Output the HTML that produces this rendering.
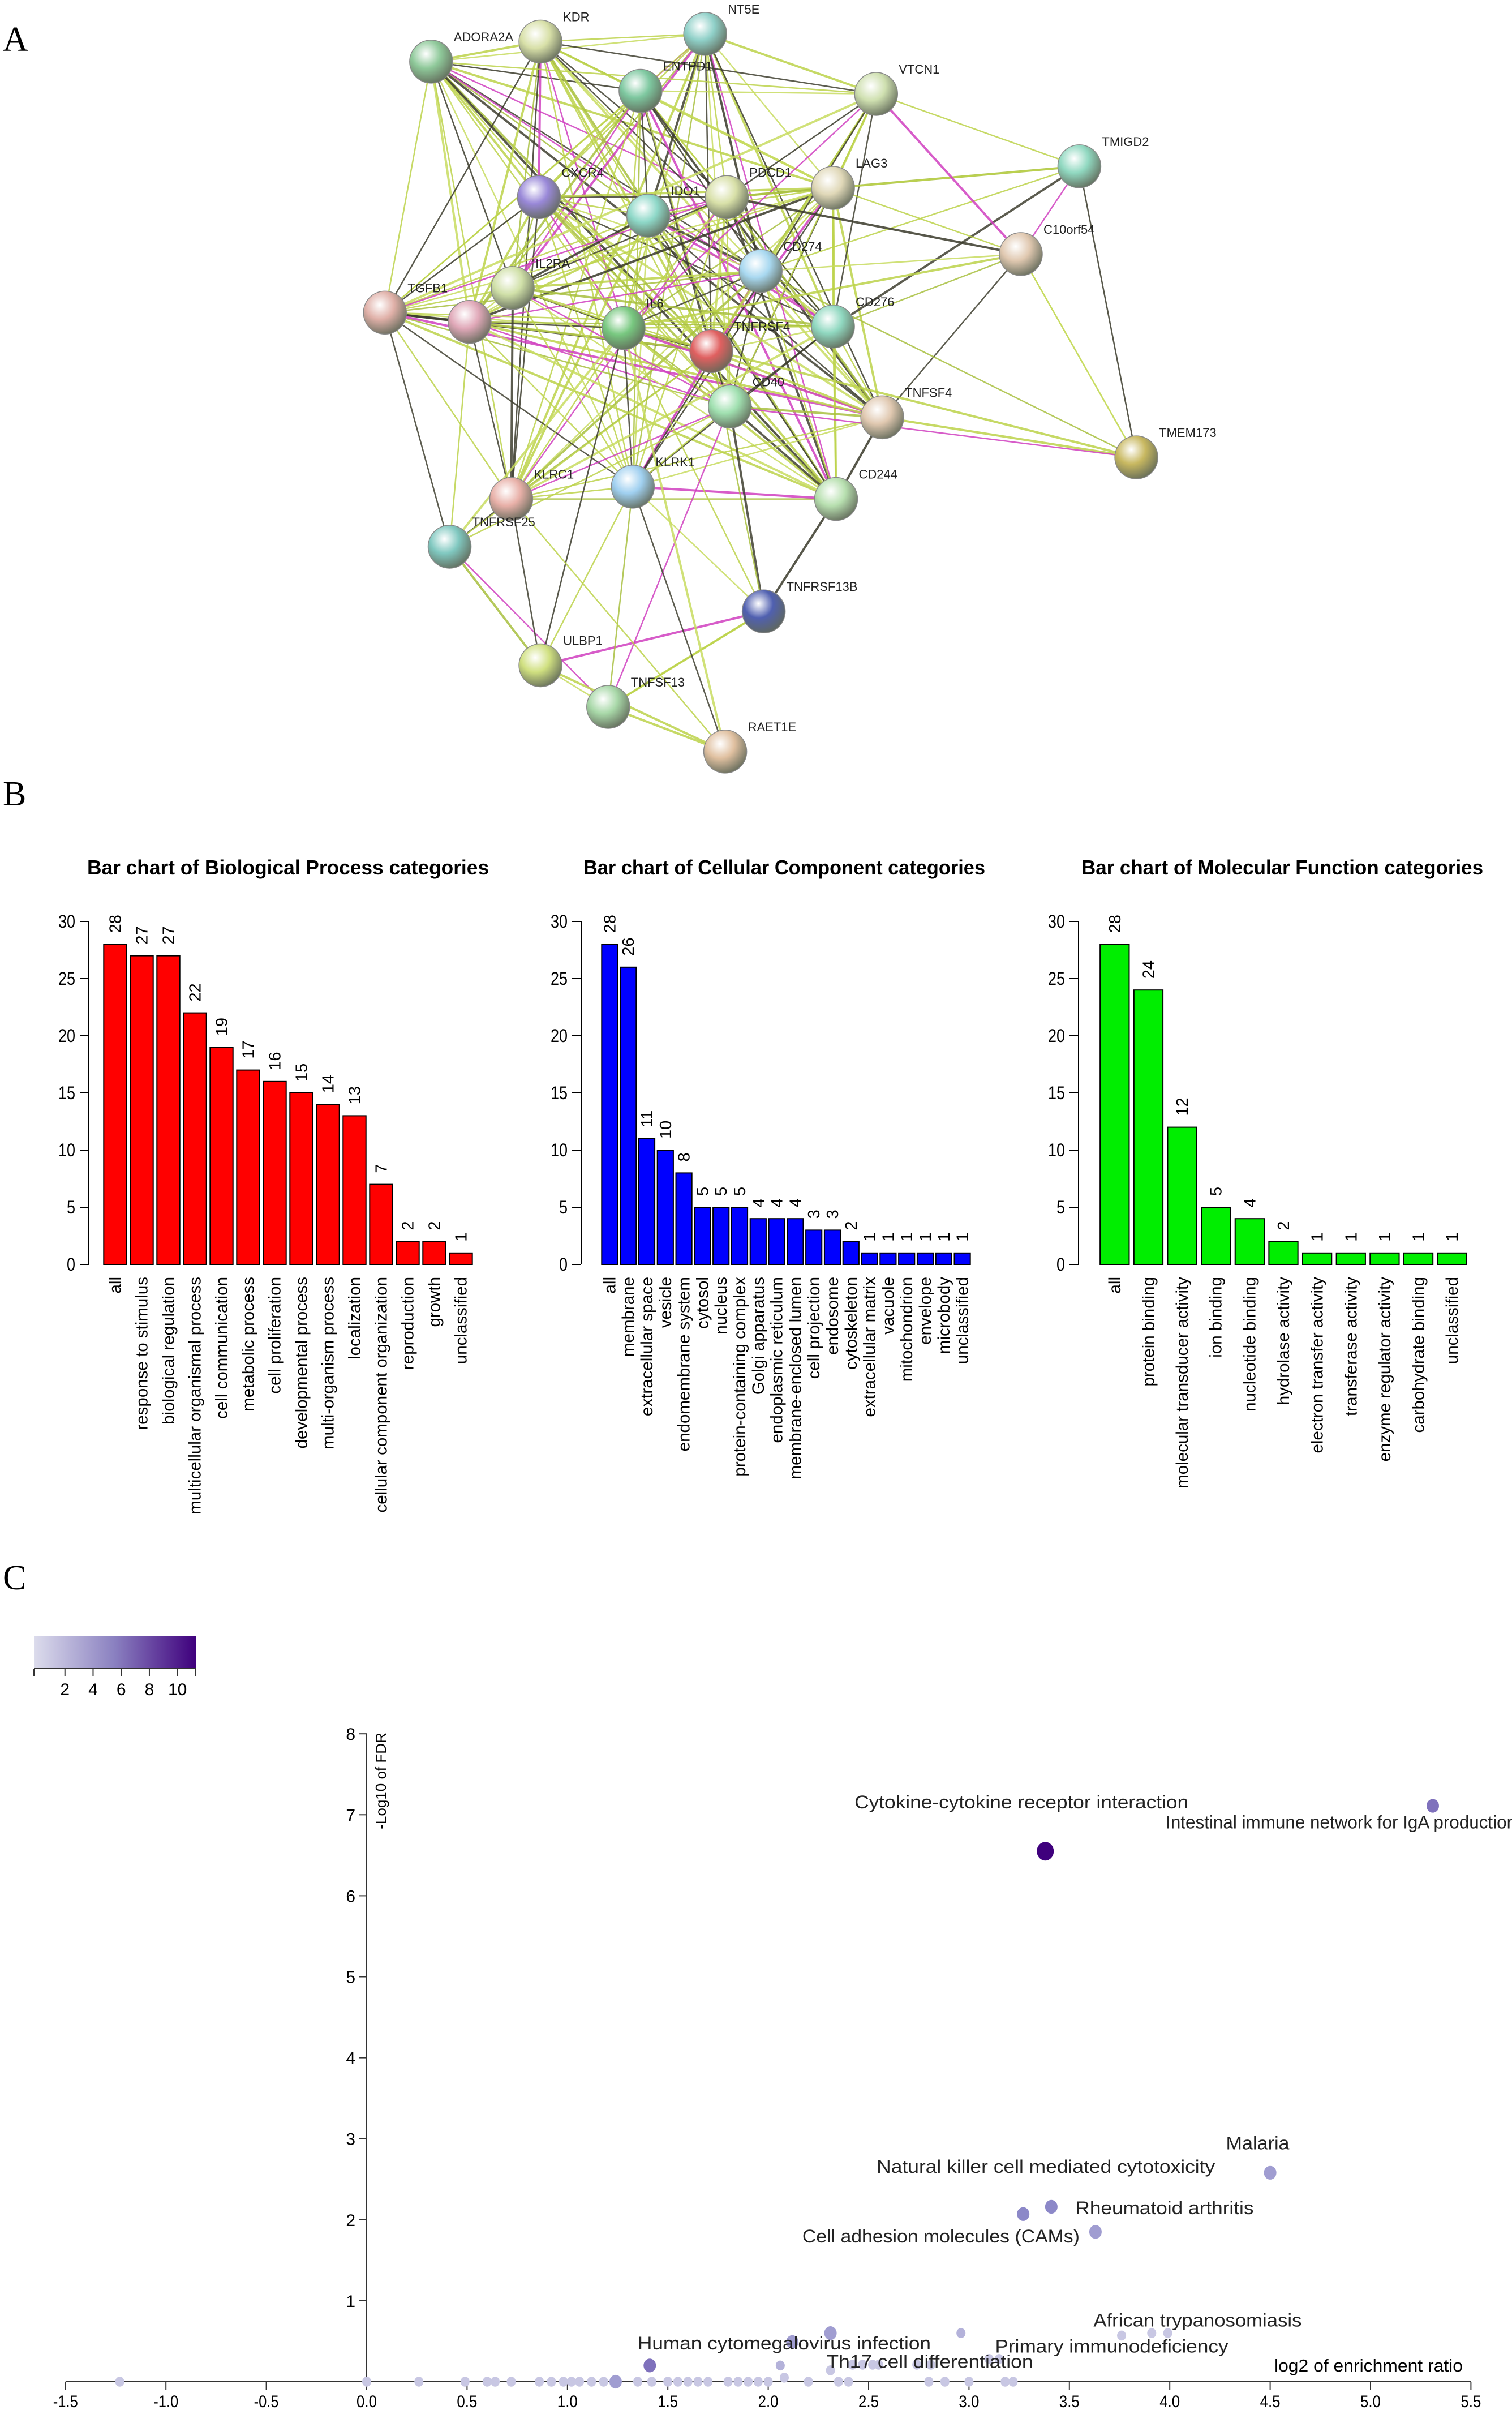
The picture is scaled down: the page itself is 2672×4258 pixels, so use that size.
<!DOCTYPE html>
<html><head><meta charset="utf-8"><style>
html,body{margin:0;padding:0;background:#fff;}
svg{display:block;}
text{font-family:"Liberation Sans",sans-serif;}
</style></head><body>
<svg id="s" width="2672" height="4258" viewBox="0 0 2672 4258" xmlns="http://www.w3.org/2000/svg">
<defs>
<linearGradient id="cbar" x1="0" x2="1" y1="0" y2="0"><stop offset="0" stop-color="#dcdcec"/><stop offset="0.5" stop-color="#8a80c0"/><stop offset="1" stop-color="#3f007d"/></linearGradient>
</defs>
<text x="5" y="90" font-size="62" style="font-family:'Liberation Serif',serif">A</text>
<text x="5" y="1423" font-size="62" style="font-family:'Liberation Serif',serif">B</text>
<text x="5" y="2808" font-size="62" style="font-family:'Liberation Serif',serif">C</text>
<g id="net"></g>
<g id="bars"></g>
<g id="scat"></g>
</svg>
<script>
const NS="http://www.w3.org/2000/svg";
function mk(tag,attrs,parent,txt){const e=document.createElementNS(NS,tag);for(const k in attrs)e.setAttribute(k,attrs[k]);if(txt!==undefined)e.textContent=txt;parent.appendChild(e);return e;}

// ---------- Panel A network ----------
const nodeNames=["ADORA2A","KDR","NT5E","ENTPD1","VTCN1","TMIGD2","CXCR4","IDO1","PDCD1","LAG3","C10orf54","CD274","TGFB1","","IL2RA","IL6","TNFRSF4","CD276","CD40","TNFSF4","TMEM173","KLRC1","KLRK1","CD244","TNFRSF25","TNFRSF13B","ULBP1","TNFSF13","RAET1E"];
const nodeX=[280,351,458,416,569,701,350,421,472,541,663,494,250,305,333,405,462,541,474,573,738,332,411,543,292,496,351,395,471];
const nodeY=[40,27,22,59,61,108,128,140,128,122,165,176,203,209,187,213,228,212,264,271,297,324,316,324,355,397,432,459,488];
const nodeCol=["#8fc99a","#d8e0a8","#8fd0c8","#7ec8a0","#cfe0b0","#90d8c0","#9988d8","#8ed8c8","#d8e0a8","#e0d8b8","#e0c8b0","#a8d8f0","#e0b0a8","#e0a8b8","#d0e0a8","#78c880","#e06060","#90d8c0","#a0e0b0","#e0c8b0","#c8b860","#e8b0a8","#a0d0f0","#b8e0b0","#80c8c0","#5060b0","#d0e080","#a8d8a8","#e0c0a0"];
const core=[0,1,2,3,6,7,8,9,11,12,13,14,15,16,17,18,19,21,22,23];
const extraEdges=[[4,0],[4,1],[4,2],[4,3],[4,8],[4,9],[4,11],[4,15],[4,16],[4,17],[4,18],[4,12],[4,22],[5,11],[5,8],[5,10],[5,9],[5,17],[5,4],[10,11],[10,8],[10,9],[10,17],[10,4],[10,20],[10,19],[10,15],[20,10],[20,5],[20,19],[20,11],[20,18],[20,15],[24,12],[24,13],[24,15],[24,21],[24,18],[24,26],[24,27],[24,16],[25,18],[25,27],[25,22],[25,23],[25,15],[25,16],[25,26],[26,22],[26,21],[26,28],[26,27],[26,15],[27,25],[27,22],[27,18],[27,28],[28,22],[28,21],[28,15]];
(function(){
 const g=document.getElementById('net');const S=2.721;
 const edges=[];
 for(let i=0;i<core.length;i++)for(let j=i+1;j<core.length;j++)edges.push([core[i],core[j]]);
 extraEdges.forEach(e=>edges.push(e));
 const cols=["#bcd24a","#c8dc60","#3a3a2a","#bcd24a","#a8c040","#d040c0","#bcd24a","#404030"];
 edges.forEach((e,k)=>{
  const l=mk('line',{x1:nodeX[e[0]]*S,y1:nodeY[e[0]]*S,x2:nodeX[e[1]]*S,y2:nodeY[e[1]]*S,stroke:cols[k%cols.length],'stroke-width':(k%3==0?4:2.5),'stroke-opacity':0.85},g);
  
  
 });
 const defs=document.querySelector('defs');
 nodeNames.forEach((n,i)=>{
  const gr=mk('radialGradient',{id:'ng'+i,cx:'0.38',cy:'0.32',r:'0.75'},defs);
  mk('stop',{offset:'0','stop-color':'#ffffff'},gr);
  mk('stop',{offset:'0.45','stop-color':nodeCol[i]},gr);
  mk('stop',{offset:'1','stop-color':'#606858'},gr);
  const c=mk('circle',{cx:nodeX[i]*S,cy:nodeY[i]*S,r:38,fill:'url(#ng'+i+')',stroke:'#888','stroke-width':1.5},g);
  
  
  if(n){const t=mk('text',{x:nodeX[i]*S+40,y:nodeY[i]*S-36,'font-size':22,fill:'#222'},g,n);
  
  }
 });
})();

// ---------- Panel B bar charts ----------
const bpCats=["all","response to stimulus","biological regulation","multicellular organismal process","cell communication","metabolic process","cell proliferation","developmental process","multi-organism process","localization","cellular component organization","reproduction","growth","unclassified"];
const bpVals=[28,27,27,22,19,17,16,15,14,13,7,2,2,1];
const ccCats=["all","membrane","extracellular space","vesicle","endomembrane system","cytosol","nucleus","protein-containing complex","Golgi apparatus","endoplasmic reticulum","membrane-enclosed lumen","cell projection","endosome","cytoskeleton","extracellular matrix","vacuole","mitochondrion","envelope","microbody","unclassified"];
const ccVals=[28,26,11,10,8,5,5,5,4,4,4,3,3,2,1,1,1,1,1,1];
const mfCats=["all","protein binding","molecular transducer activity","ion binding","nucleotide binding","hydrolase activity","electron transfer activity","transferase activity","enzyme regulator activity","carbohydrate binding","unclassified"];
const mfVals=[28,24,12,5,4,2,1,1,1,1,1];
const yTicks=[0,5,10,15,20,25,30];
(function(){
 const g=document.getElementById('bars');
 const y0=2234,perU=20.2;
 const Y=v=>y0-v*perU;
 const charts=[
  {name:'biological-process',title:"Bar chart of Biological Process categories",cats:bpCats,vals:bpVals,ax:157,x0:180,x1:838,col:'#ff0000',tc:509},
  {name:'cellular-component',title:"Bar chart of Cellular Component categories",cats:ccCats,vals:ccVals,ax:1027,x0:1061,x1:1717,col:'#0000ff',tc:1386},
  {name:'molecular-function',title:"Bar chart of Molecular Function categories",cats:mfCats,vals:mfVals,ax:1906,x0:1940,x1:2596,col:'#00ee00',tc:2266}];
 charts.forEach(c=>{
  const cg=mk('g',{},g);
  
  
  const t=mk('text',{x:c.tc,y:1545,'text-anchor':'middle','font-size':36,'font-weight':'bold',textLength:710,lengthAdjust:'spacingAndGlyphs'},cg,c.title);
  
  
  const ax=mk('line',{x1:c.ax,y1:Y(0),x2:c.ax,y2:Y(30),stroke:'#000','stroke-width':2},cg);
  
  
  yTicks.forEach(v=>{
   mk('line',{x1:c.ax-16,y1:Y(v),x2:c.ax,y2:Y(v),stroke:'#000','stroke-width':2},cg);
   const tl=mk('text',{x:c.ax-24,y:Y(v)+11,'text-anchor':'end','font-size':32,textLength:(v>=10?30:15),lengthAdjust:'spacingAndGlyphs'},cg,String(v));
   
   
  });
  const n=c.vals.length,slot=(c.x1-c.x0)/n,bw=slot*0.86;
  c.vals.forEach((v,i)=>{
   const x=c.x0+i*slot+(slot-bw)/2;
   const r=mk('rect',{x:x,y:Y(v),width:bw,height:v*perU,fill:c.col,stroke:'#000','stroke-width':2},cg);
   
   
   const cx=x+bw/2;
   const vl=mk('text',{transform:`translate(${cx+10},${Y(v)-20}) rotate(-90)`,'font-size':29},cg,String(v));
   
   
   const cl=mk('text',{transform:`translate(${cx+10},${Y(0)+22}) rotate(-90)`,'text-anchor':'end','font-size':29.5},cg,c.cats[i]);
   
   
  });
 });
})();

// ---------- Panel C scatter ----------
const ptX=[3.38,5.31,4.50,3.27,3.41,3.63,2.31,2.96,2.12,1.41,2.06,3.76,3.91,3.99,3.10,3.15,2.31,2.42,2.47,2.52,2.55,2.74,2.81,2.08,-1.23,0.0,0.26,0.49,0.60,0.64,0.72,0.86,0.92,0.98,1.02,1.06,1.12,1.18,1.24,1.35,1.42,1.50,1.55,1.60,1.65,1.70,1.80,1.85,1.90,1.95,2.00,2.20,2.35,2.40,2.80,2.88,3.00,3.18,3.22];
const ptY=[6.55,7.11,2.58,2.07,2.16,1.85,0.60,0.60,0.49,0.20,0.20,0.57,0.60,0.60,0.28,0.28,0.14,0.21,0.21,0.21,0.21,0.21,0.21,0.05,0,0,0,0,0,0,0,0,0,0,0,0,0,0,0,0,0,0,0,0,0,0,0,0,0,0,0,0,0,0,0,0,0,0,0];
const ptC=[11,6,4,5,5,4,4,3,4,6,3,2,2,2,2,2,2,2,2,2,2,2,2,2,2,2,2,2,2,2,2,2,2,2,2,2,2,2,4,2,2,2,2,2,2,2,2,2,2,2,2,2,2,2,2,2,2,2,2];
const labText=["Cytokine-cytokine receptor interaction","Intestinal immune network for IgA production","Malaria","Natural killer cell mediated cytotoxicity","Rheumatoid arthritis","Cell adhesion molecules (CAMs)","African trypanosomiasis","Human cytomegalovirus infection","Primary immunodeficiency","Th17 cell differentiation"];
const labX=[2.43,3.98,4.28,2.54,3.53,2.17,3.62,1.35,3.13,2.29];
const labY=[7.08,6.83,2.87,2.58,2.07,1.72,0.68,0.40,0.36,0.17];
const labLen=[590,620,112,598,315,490,368,518,412,365];
const xTicks=[-1.5,-1.0,-0.5,0.0,0.5,1.0,1.5,2.0,2.5,3.0,3.5,4.0,4.5,5.0,5.5];
const yTicksC=[1,2,3,4,5,6,7,8];
const cbTicks=[2,4,6,8,10];
(function(){
 const g=document.getElementById('scat');
 const X=v=>648+v*354.8, Y=v=>4208-v*143.1;
 const cb=mk('rect',{x:60,y:2890,width:286,height:58,fill:'url(#cbar)'},g);
 
 
 const CB=v=>60+v*286/11.5+5;
 mk('line',{x1:60,y1:2948,x2:346,y2:2948,stroke:'#333','stroke-width':2},g);
 [60,346].forEach(x=>mk('line',{x1:x,y1:2948,x2:x,y2:2962,stroke:'#333','stroke-width':2},g));
 cbTicks.forEach(v=>{
  mk('line',{x1:CB(v),y1:2948,x2:CB(v),y2:2962,stroke:'#333','stroke-width':2},g);
  const t=mk('text',{x:CB(v),y:2995,'text-anchor':'middle','font-size':30},g,String(v));
  
  
 });
 const ya=mk('line',{x1:X(0),y1:Y(0),x2:X(0),y2:Y(8),stroke:'#333','stroke-width':2},g);
 
 
 const xa=mk('line',{x1:X(-1.5),y1:Y(0),x2:X(5.5),y2:Y(0),stroke:'#333','stroke-width':2},g);
 
 
 yTicksC.forEach(v=>{
  mk('line',{x1:X(0)-14,y1:Y(v),x2:X(0),y2:Y(v),stroke:'#333','stroke-width':2},g);
  const t=mk('text',{x:X(0)-20,y:Y(v)+11,'text-anchor':'end','font-size':30},g,String(v));
  
  
 });
 xTicks.forEach(v=>{
  mk('line',{x1:X(v),y1:Y(0),x2:X(v),y2:Y(0)+14,stroke:'#333','stroke-width':2},g);
  const t=mk('text',{x:X(v),y:Y(0)+45,'text-anchor':'middle','font-size':30,textLength:(v<0?44:36),lengthAdjust:'spacingAndGlyphs'},g,v.toFixed(1));
  
  
 });
 const yt=mk('text',{transform:`translate(${X(0)+34},${Y(8)-2}) rotate(-90)`,'text-anchor':'end','font-size':26},g,'-Log10 of FDR');
 
 
 const xt=mk('text',{x:2585,y:Y(0)-18,'text-anchor':'end','font-size':31,textLength:333,lengthAdjust:'spacingAndGlyphs'},g,'log2 of enrichment ratio');
 
 
 const stops=[[1,[220,220,236]],[5,[140,136,200]],[11,[63,0,125]]];
 const col=v=>{let a=stops[0],b=stops[1];if(v>5){a=stops[1];b=stops[2];}const t=Math.min(1,Math.max(0,(v-a[0])/(b[0]-a[0])));return `rgb(${Math.round(a[1][0]+(b[1][0]-a[1][0])*t)},${Math.round(a[1][1]+(b[1][1]-a[1][1])*t)},${Math.round(a[1][2]+(b[1][2]-a[1][2])*t)})`;};
 ptX.forEach((x,i)=>{
  const r=ptC[i]>=10?15:(ptC[i]>=4?11:8);
  const c=mk('ellipse',{cx:X(x),cy:Y(ptY[i]),rx:r,ry:r*1.1,fill:col(ptC[i])},g);
  
  
 });
 labText.forEach((t,i)=>{
  const e=mk('text',{x:X(labX[i]),y:Y(labY[i]),'font-size':32,fill:'#222',textLength:labLen[i],lengthAdjust:'spacingAndGlyphs'},g,t);
  
  
 });
})();
</script>
</body></html>
